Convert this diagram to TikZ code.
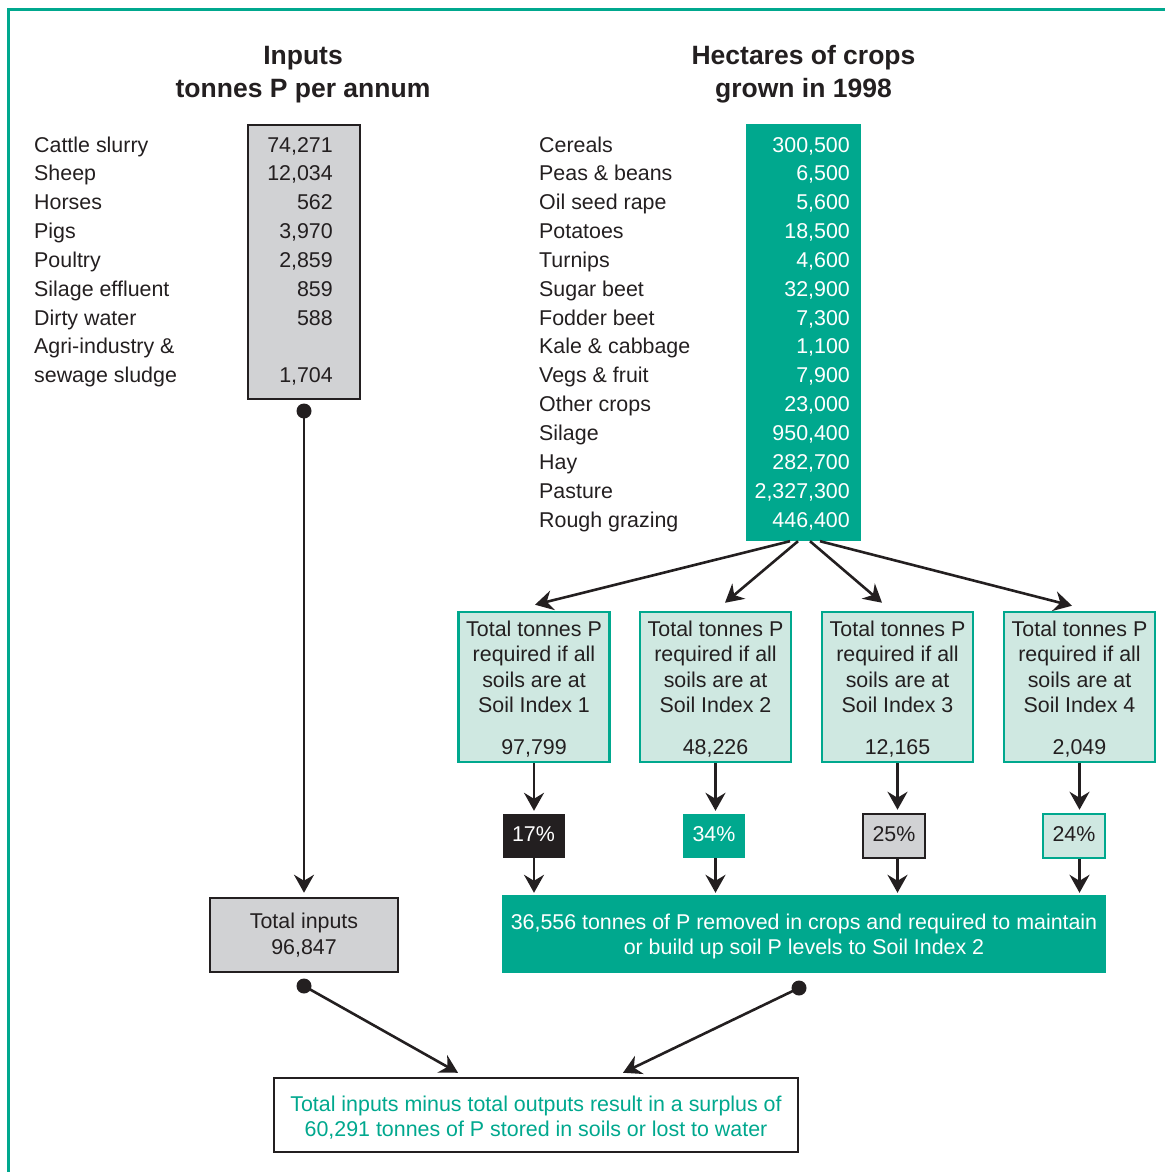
\documentclass[tikz,border=0pt]{standalone}
\usepackage{fontspec}
\setmainfont{Liberation Sans}
\usetikzlibrary{arrows.meta,calc}
\definecolor{tealA}{HTML}{00A88E}
\definecolor{ltealA}{HTML}{CFE8E1}
\definecolor{lgrayA}{HTML}{D1D2D4}
\definecolor{inkA}{HTML}{231F20}
\newcommand{\topstrut}[1]{\rule{0pt}{#1}}
\begin{document}
\begin{tikzpicture}[x=1pt,y=-1pt,
  every node/.style={font=\fontsize{21.4}{25.3}\selectfont, text=inkA, inner sep=0pt},
  lab/.style={anchor=base west},
  val/.style={anchor=base east},
  ttl/.style={anchor=base, font=\fontsize{26.5}{32}\selectfont\bfseries},
  arr/.style={draw=inkA, line width=2.6pt, -{Stealth[length=18pt,width=20pt,inset=6pt]}},
  graybox/.style={draw=inkA, fill=lgrayA, line width=2.5pt, align=center},
  idxbox/.style={draw=tealA, fill=ltealA, line width=2.5pt, minimum width=151pt, minimum height=150pt, align=center},
  pbox/.style={minimum width=62pt, minimum height=44pt, text depth=4pt},
  dot/.style={circle, fill=inkA, minimum size=15pt}
]
\useasboundingbox (0,0) rectangle (1165,1172);
% frame
\draw[tealA, line width=3pt] (8,1172) -- (8,10) -- (1165,10);

% titles
\node[ttl] (t1a) at (303,65) {Inputs};
\node[ttl] (t1b) at (303,97.7) {tonnes P per annum};
\node[ttl] (t2a) at (803.5,65) {Hectares of crops};
\node[ttl] (t2b) at (803.5,97.7) {grown in 1998};

% inputs box and list
\node[graybox, minimum width=112pt, minimum height=274pt] (inbox) at (304,262) {};
\foreach \t [count=\i] in {Cattle slurry, Sheep, Horses, Pigs, Poultry, Silage effluent, Dirty water, Agri-industry \&, sewage sludge}
  \node[lab] (inl\i) at ({34},{152+28.85*(\i-1)}) {\t};
\foreach \v/\r in {{74,271}/1, {12,034}/2, {562}/3, {3,970}/4, {2,859}/5, {859}/6, {588}/7, {1,704}/9}
  \node[val] (inv\r) at ({333},{152+28.85*(\r-1)}) {\v};

% crops box and list
\node[fill=tealA, minimum width=115pt, minimum height=417pt] (crbox) at (803.5,332.5) {};
\foreach \a/\b [count=\i] in {Cereals/{300,500}, Peas \& beans/{6,500}, Oil seed rape/{5,600}, Potatoes/{18,500}, Turnips/{4,600}, Sugar beet/{32,900}, Fodder beet/{7,300}, Kale \& cabbage/{1,100}, Vegs \& fruit/{7,900}, Other crops/{23,000}, Silage/{950,400}, Hay/{282,700}, Pasture/{2,327,300}, Rough grazing/{446,400}}
{
  \node[lab] (crl\i) at ({539},{152+28.85*(\i-1)}) {\a};
  \node[val, text=white] (crv\i) at ({850},{152+28.85*(\i-1)}) {\b};
}

% soil index boxes
\node[idxbox] (b1) at (534,687) {\topstrut{19.5pt}Total tonnes P\\required if all\\soils are at\\Soil Index 1\\[16.7pt]97,799};
\node[idxbox] (b2) at (715.5,687) {\topstrut{19.5pt}Total tonnes P\\required if all\\soils are at\\Soil Index 2\\[16.7pt]48,226};
\node[idxbox] (b3) at (897.5,687) {\topstrut{19.5pt}Total tonnes P\\required if all\\soils are at\\Soil Index 3\\[16.7pt]12,165};
\node[idxbox] (b4) at (1079.5,687) {\topstrut{19.5pt}Total tonnes P\\required if all\\soils are at\\Soil Index 4\\[16.7pt]2,049};

% percentage boxes
\node[pbox, fill=inkA, text=white] (p1) at (533.5,836) {17\%};
\node[pbox, fill=tealA, text=white] (p2) at (714,836) {34\%};
\node[pbox, fill=lgrayA, draw=inkA, line width=2.5pt] (p3) at (894,836) {25\%};
\node[pbox, fill=ltealA, draw=tealA, line width=2.5pt] (p4) at (1074,836) {24\%};

% outputs box
\node[fill=tealA, text=white, minimum width=604pt, minimum height=78pt, align=center] (out) at (804,934)
  {\topstrut{20.5pt}36,556 tonnes of P removed in crops and required to maintain\\or build up soil P levels to Soil Index 2};

% total inputs
\node[graybox, minimum width=188pt, minimum height=74pt] (tin) at (304,935) {Total inputs\\96,847};

% surplus box
\node[draw=inkA, fill=white, line width=2.5pt, minimum width=524pt, minimum height=74pt, align=center, text=tealA] (bot) at (536,1115)
  {\topstrut{20.5pt}Total inputs minus total outputs result in a surplus of\\60,291 tonnes of P stored in soils or lost to water};

% dots
\node[dot] (d1) at (304,411) {};
\node[dot] (d2) at (304,986) {};
\node[dot] (d3) at (799,988) {};

% connectors
\draw[arr, shorten >=4pt] (d1.center) -- (tin.north);
\draw[arr] ([xshift=-13.5pt]crbox.south) -- ([xshift=1pt,yshift=6pt]b1.north);
\draw[arr] ([xshift=-5.5pt]crbox.south) -- ([xshift=9.5pt,yshift=8pt]b2.north);
\draw[arr] ([xshift=6.5pt]crbox.south) -- ([xshift=-15.5pt,yshift=8pt]b3.north);
\draw[arr] ([xshift=16.5pt]crbox.south) -- ([xshift=-7.5pt,yshift=5pt]b4.north);
\foreach \k in {1,2,3,4}{
  \draw[arr, shorten >=3pt] (b\k.south) -- (b\k.south |- p\k.north);
  \draw[arr, shorten >=2pt] (p\k.south -| b\k.south) -- (b\k.south |- out.north);
}
\draw[arr] (d2.center) -- ([xshift=-78pt,yshift=4pt]bot.north);
\draw[arr] (d3.center) -- ([xshift=87pt,yshift=4pt]bot.north);
\end{tikzpicture}
\end{document}
